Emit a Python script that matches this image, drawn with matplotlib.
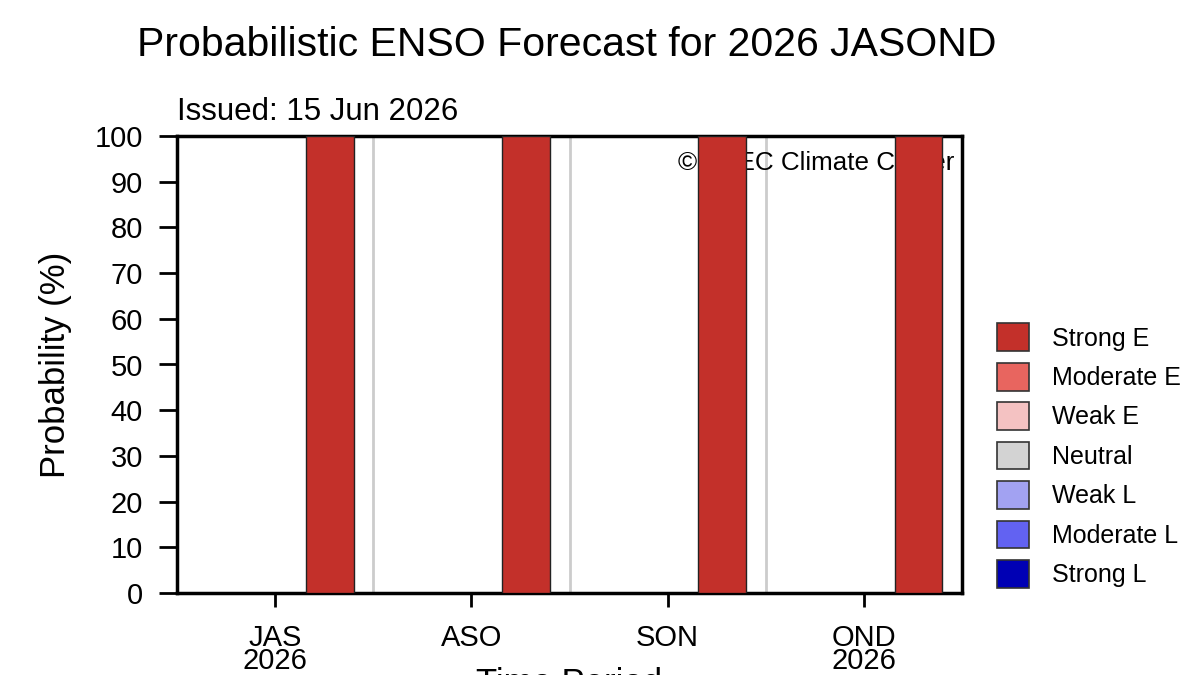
import matplotlib
matplotlib.use("Agg")
import matplotlib.pyplot as plt
from matplotlib.patches import Patch
import numpy as np

plt.rcParams['font.family'] = ['Liberation Sans', 'DejaVu Sans']

periods = ["JAS\n2026", "ASO", "SON", "OND\n2026"]
categories = ["Strong L", "Moderate L", "Weak L", "Neutral", "Weak E", "Moderate E", "Strong E"]
colors = ["#0000b4", "#6262f2", "#a2a2f2", "#d3d3d3", "#f4c2c2", "#e8655f", "#c3302a"]
probs = {
    "Strong L":   [0, 0, 0, 0],
    "Moderate L": [0, 0, 0, 0],
    "Weak L":     [0, 0, 0, 0],
    "Neutral":    [0, 0, 0, 0],
    "Weak E":     [0, 0, 0, 0],
    "Moderate E": [0, 0, 0, 0],
    "Strong E":   [100, 100, 100, 100],
}
yticks = [0, 10, 20, 30, 40, 50, 60, 70, 80, 90, 100]

fig = plt.figure(figsize=(12, 6.75), dpi=100)
ax = fig.add_axes([0.1475, 0.1215, 0.6542, 0.677])

x = np.arange(1, len(periods) + 1)
bar_x = x + 0.278
bottom = np.zeros(len(periods))
for cat, col in zip(categories, colors):
    vals = np.array(probs[cat], dtype=float)
    ax.bar(bar_x, vals, width=0.243, bottom=bottom, color=col,
           edgecolor="#222222", linewidth=1.0, zorder=3)
    bottom += vals

for sep in x[:-1] + 0.5:
    ax.axvline(sep, color="#cccccc", linewidth=2, zorder=1)

ax.text(0.99, 0.94, "© APEC Climate Center", transform=ax.transAxes,
        ha="right", va="center", fontsize=18.7, zorder=2)

ax.set_xlim(0.5, len(periods) + 0.5)
ax.set_ylim(0, 100)
ax.set_xticks(x)
ax.set_xticklabels(periods, fontsize=21, linespacing=0.78)
ax.set_yticks(yticks)
ax.set_yticklabels([str(v) for v in yticks], fontsize=21)
ax.tick_params(axis="y", length=13, width=2, pad=11.5)
ax.tick_params(axis="x", length=10, width=2, pad=12.5)
for s in ax.spines.values():
    s.set_linewidth(2.5)

fig.text(0.046, 0.46, "Probability (%)", rotation=90, ha="center", va="center", fontsize=25)
fig.text(0.474, 0.012, "Time Period", ha="center", va="top", fontsize=25)
fig.text(0.472, 0.933, "Probabilistic ENSO Forecast for 2026 JASOND", ha="center",
         va="center", fontsize=29.5)
ax.text(0.0, 1.02, "Issued: 15 Jun 2026", transform=ax.transAxes, ha="left",
        va="bottom", fontsize=22.5)

handles = [Patch(facecolor=c, edgecolor="#333333", linewidth=1.2, label=l)
           for l, c in zip(categories[::-1], colors[::-1])]
fig.legend(handles=handles, loc="center left", bbox_to_anchor=(0.831, 0.325),
           frameon=False, fontsize=18, handlelength=1.28, handleheight=1.33,
           labelspacing=0.47, handletextpad=0.92, borderaxespad=0, borderpad=0)

fig.savefig("out.png", dpi=100)
